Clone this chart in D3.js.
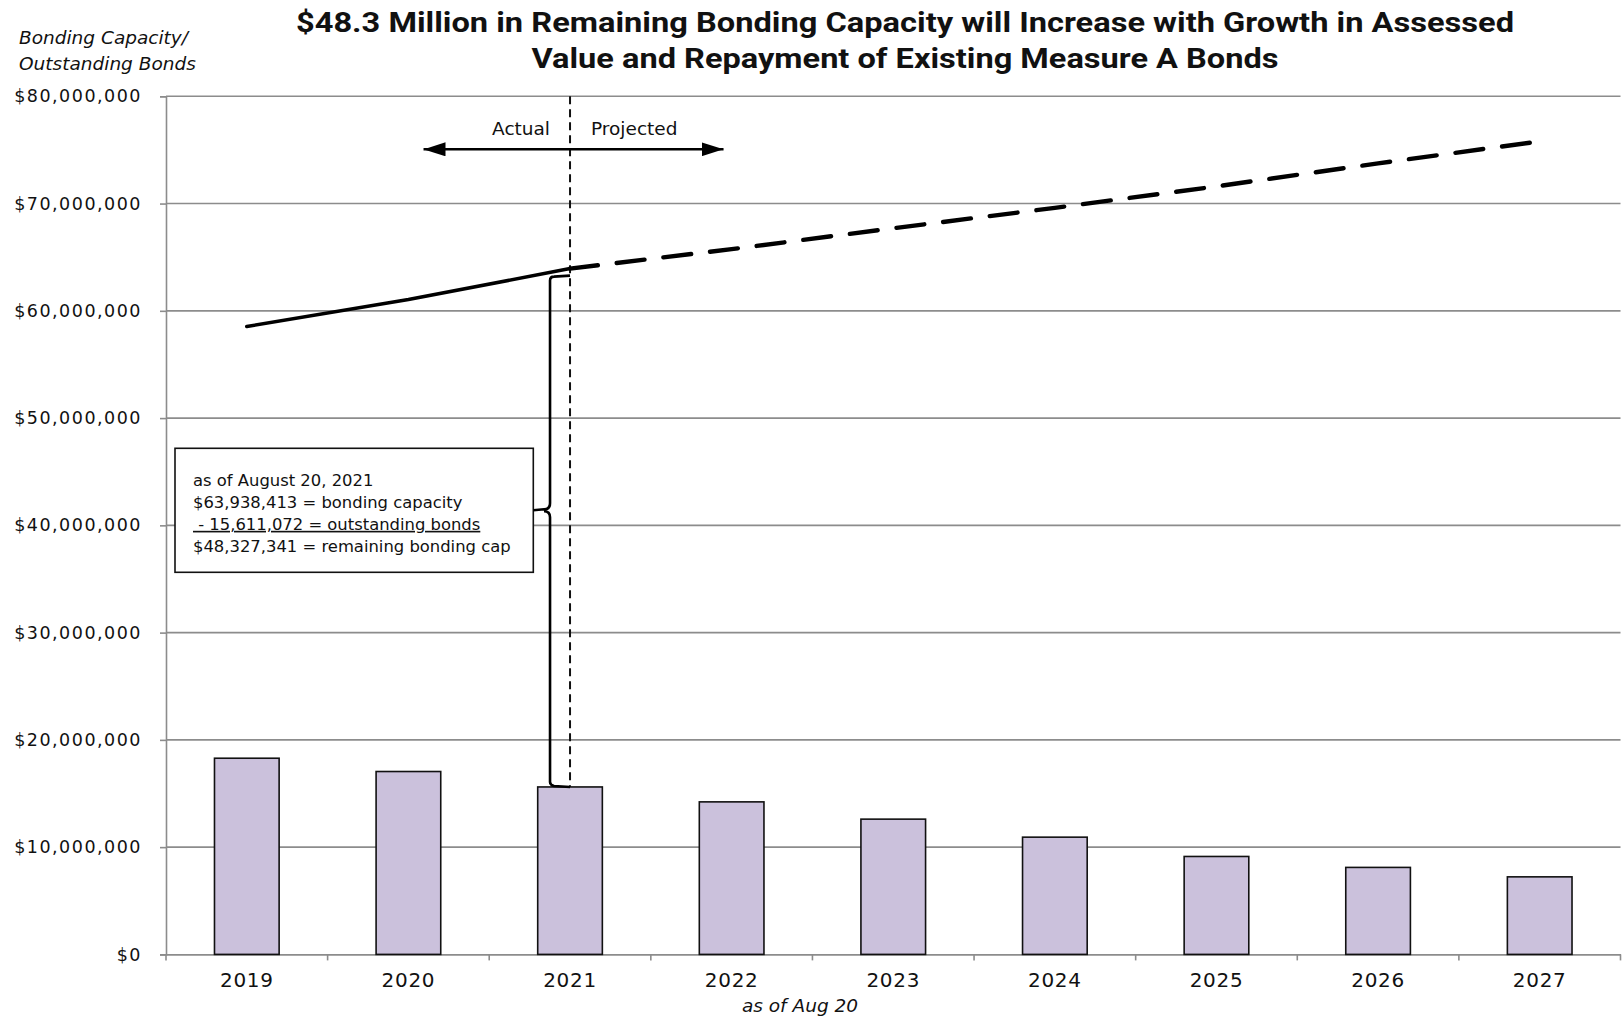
<!DOCTYPE html>
<html>
<head>
<meta charset="utf-8">
<script src="https://cdn.jsdelivr.net/npm/d3@7"></script>
<style>
  html, body { margin: 0; padding: 0; background: #fff; }
  svg { display: block; }
  text { fill: #111; }
</style>
</head>
<body>
<script>
// Fiscal years on the category axis
const years = ["2019", "2020", "2021", "2022", "2023", "2024", "2025", "2026", "2027"];

// Outstanding Measure A bonds (bars)
const outstandingBonds = [18290000, 17050000, 15611072, 14220000, 12610000, 10930000, 9130000, 8110000, 7230000];

// Bonding capacity: actual (solid) and projected (dashed)
const actualYears = ["2019", "2020", "2021"];
const actualCapacity = [58540000, 61050000, 63938413];
const projectedYears = ["2021", "2022", "2023", "2024", "2025", "2026", "2027"];
const projectedCapacity = [63938413, 65750000, 67700000, 69600000, 71600000, 73750000, 75800000];

// Value axis ticks
const yTicks = [0, 10000000, 20000000, 30000000, 40000000, 50000000, 60000000, 70000000, 80000000];

// Text blocks
const titleLines = [
  "$48.3 Million in Remaining Bonding Capacity will Increase with Growth in Assessed",
  "Value and Repayment of Existing Measure A Bonds"
];
const yAxisTitle = ["Bonding Capacity/", "Outstanding Bonds"];
const calloutLines = [
  "as of August 20, 2021",
  "$63,938,413 = bonding capacity",
  " - 15,611,072 = outstanding bonds",
  "$48,327,341 = remaining bonding cap"
];
const markerYear = "2021";

const W = 1623, H = 1017;
const plot = { left: 166, right: 1620.5, top: 96.3, bottom: 954.4 };

const svg = d3.select("body").append("svg")
  .attr("width", W).attr("height", H)
  .attr("viewBox", `0 0 ${W} ${H}`);

const x = d3.scaleBand()
  .domain(years)
  .range([plot.left, plot.right])
  .paddingInner(0.6)
  .paddingOuter(0.3);
const step = x.step();
const cx = d => x(d) + x.bandwidth() / 2;

const y = d3.scaleLinear()
  .domain([0, 80000000])
  .range([plot.bottom, plot.top]);

const money = d3.format("$,.0f");
const FONT = "'DejaVu Sans', 'Noto Sans', sans-serif";

// Gridlines
svg.append("g")
  .selectAll("line")
  .data(yTicks.filter(v => v > 0))
  .join("line")
  .attr("x1", plot.left).attr("x2", plot.right)
  .attr("y1", d => y(d)).attr("y2", d => y(d))
  .attr("stroke", "#8c8c8c").attr("stroke-width", 1.6);

// Value axis
const yAxis = svg.append("g")
  .attr("transform", `translate(${plot.left},0)`)
  .call(d3.axisLeft(y).tickValues(yTicks).tickFormat(money).tickSize(6).tickPadding(18));
yAxis.select(".domain").attr("stroke", "#8c8c8c").attr("stroke-width", 1.6);
yAxis.selectAll(".tick line").attr("stroke", "#8c8c8c").attr("stroke-width", 1.6);
yAxis.selectAll(".tick text")
  .attr("font-family", FONT).attr("font-size", 17.5)
  .attr("letter-spacing", 1.5)
  .attr("fill", "#111");

// Category axis
const xAxis = svg.append("g")
  .attr("transform", `translate(0,${plot.bottom})`)
  .call(d3.axisBottom(x).tickSize(0).tickPadding(18));
xAxis.select(".domain").attr("stroke", "#8c8c8c").attr("stroke-width", 1.6);
xAxis.selectAll(".tick text")
  .attr("font-family", FONT).attr("font-size", 20)
  .attr("letter-spacing", 0.7)
  .attr("fill", "#111");
// tick marks between categories
svg.append("g")
  .selectAll("line")
  .data(d3.range(years.length + 1))
  .join("line")
  .attr("x1", i => plot.left + i * step).attr("x2", i => plot.left + i * step)
  .attr("y1", plot.bottom).attr("y2", plot.bottom + 6)
  .attr("stroke", "#8c8c8c").attr("stroke-width", 1.6);

// Bars: outstanding bonds
svg.append("g")
  .selectAll("rect")
  .data(years.map((yr, i) => ({ yr, v: outstandingBonds[i] })))
  .join("rect")
  .attr("x", d => x(d.yr))
  .attr("y", d => y(d.v))
  .attr("width", x.bandwidth())
  .attr("height", d => y(0) - y(d.v))
  .attr("fill", "#cbc1dc")
  .attr("stroke", "#111")
  .attr("stroke-width", 1.6);

// Actual / projected divider
const mx = cx(markerYear);
const markerBond = outstandingBonds[years.indexOf(markerYear)];
const markerCap = actualCapacity[actualYears.indexOf(markerYear)];
svg.append("line")
  .attr("x1", mx).attr("x2", mx)
  .attr("y1", plot.top).attr("y2", y(markerBond))
  .attr("stroke", "#111").attr("stroke-width", 2)
  .attr("stroke-dasharray", "8,5");

// Capacity lines
const line = d3.line().x(d => cx(d[0])).y(d => y(d[1]));
svg.append("path")
  .datum(actualYears.map((yr, i) => [yr, actualCapacity[i]]))
  .attr("d", line)
  .attr("fill", "none").attr("stroke", "#000")
  .attr("stroke-width", 3.6).attr("stroke-linecap", "round");
svg.append("path")
  .datum(projectedYears.map((yr, i) => [yr, projectedCapacity[i]]))
  .attr("d", line)
  .attr("fill", "none").attr("stroke", "#000")
  .attr("stroke-width", 4.4).attr("stroke-linecap", "round")
  .attr("stroke-dasharray", "28,19");

// Actual / Projected labels with arrow
const arrowY = 149.3;
const defs = svg.append("defs");
defs.append("marker")
  .attr("id", "head")
  .attr("viewBox", "0 0 22 14")
  .attr("refX", 22).attr("refY", 7)
  .attr("markerWidth", 22).attr("markerHeight", 14)
  .attr("markerUnits", "userSpaceOnUse")
  .attr("orient", "auto-start-reverse")
  .append("path").attr("d", "M0,0 L22,7 L0,14 Z").attr("fill", "#000");
svg.append("line")
  .attr("x1", mx - 146.5).attr("x2", mx + 153.5)
  .attr("y1", arrowY).attr("y2", arrowY)
  .attr("stroke", "#000").attr("stroke-width", 2.6)
  .attr("marker-start", "url(#head)").attr("marker-end", "url(#head)");
svg.append("text")
  .attr("x", mx - 20).attr("y", 135)
  .attr("text-anchor", "end")
  .attr("font-family", FONT).attr("font-size", 18.5)
  .text("Actual");
svg.append("text")
  .attr("x", mx + 21).attr("y", 135)
  .attr("font-family", FONT).attr("font-size", 18.5)
  .text("Projected");

// Callout box
const box = { x: 175, y: 448.3, w: 358.3, h: 124 };
svg.append("rect")
  .attr("x", box.x).attr("y", box.y).attr("width", box.w).attr("height", box.h)
  .attr("fill", "#fff").attr("stroke", "#111").attr("stroke-width", 1.6);
svg.append("g")
  .selectAll("text")
  .data(calloutLines)
  .join("text")
  .attr("x", box.x + 18)
  .attr("y", (d, i) => 486 + i * 21.9)
  .attr("font-family", FONT).attr("font-size", 16.4)
  .attr("xml:space", "preserve")
  .style("white-space", "pre")
  .attr("text-decoration", (d, i) => i === 2 ? "underline" : null)
  .text(d => d);

// Brace spanning capacity down to outstanding bonds
const bx = mx - 20;
const topY = y(markerCap) + 8;
const botY = y(markerBond) - 1;
const tipY = box.y + box.h / 2;
const tipX = box.x + box.w;
const br = d3.path();
br.moveTo(mx, topY - 1);
br.lineTo(bx + 4, topY);
br.quadraticCurveTo(bx, topY, bx, topY + 4);
br.lineTo(bx, tipY - 7);
br.quadraticCurveTo(bx, tipY - 1, bx - 6, tipY - 1);
br.lineTo(tipX, tipY);
br.moveTo(bx - 6, tipY + 1);
br.quadraticCurveTo(bx, tipY + 1, bx, tipY + 7);
br.lineTo(bx, botY - 4);
br.quadraticCurveTo(bx, botY - 1, bx + 4, botY);
br.lineTo(mx, botY + 1);
svg.append("path")
  .attr("d", br.toString())
  .attr("fill", "none").attr("stroke", "#000").attr("stroke-width", 2.6);

// Value axis title
svg.append("g")
  .selectAll("text")
  .data(yAxisTitle)
  .join("text")
  .attr("x", 19)
  .attr("y", (d, i) => 44 + i * 26)
  .attr("font-family", FONT).attr("font-size", 18.5)
  .attr("font-style", "italic")
  .text(d => d);

// Date note under category axis
svg.append("text")
  .attr("x", 800).attr("y", 1012)
  .attr("text-anchor", "middle")
  .attr("font-family", FONT).attr("font-size", 18.5)
  .attr("font-style", "italic")
  .text("as of Aug 20");

// Title
const titleWidths = [1218, 747];
svg.append("g")
  .selectAll("text")
  .data(titleLines)
  .join("text")
  .attr("x", 905)
  .attr("y", (d, i) => 32 + i * 35.5)
  .attr("text-anchor", "middle")
  .attr("font-family", "Roboto, 'Liberation Sans', sans-serif")
  .attr("font-weight", "bold")
  .attr("font-size", 28)
  .attr("textLength", (d, i) => titleWidths[i])
  .attr("lengthAdjust", "spacingAndGlyphs")
  .text(d => d);
</script>
</body>
</html>
